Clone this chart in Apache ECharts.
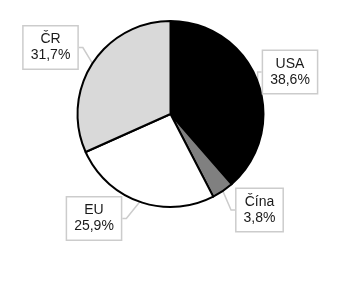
<!DOCTYPE html>
<html><head><meta charset="utf-8">
<script src="https://cdn.jsdelivr.net/npm/echarts@6/dist/echarts.min.js"></script>
<style>html,body{margin:0;padding:0;background:#fff}#c{width:360px;height:283px}</style>
</head><body><div id="c"></div>
<script>
var categories = ['USA', 'Čína', 'EU', 'ČR'];
var values = [38.6, 3.8, 25.9, 31.7];
var colors = ['#000000', '#808080', '#ffffff', '#d9d9d9'];
var labelCenters = [[290, 72], [259.5, 210], [94, 218.5], [50.5, 47.5]];

var chart = echarts.init(document.getElementById('c'), null, {renderer: 'canvas'});
chart.setOption({
  animation: false,
  series: [{
    type: 'pie',
    center: [170.5, 114],
    radius: 93,
    startAngle: 90,
    clockwise: true,
    data: categories.map(function (c, i) {
      return {name: c, value: values[i], itemStyle: {color: colors[i]}};
    }),
    itemStyle: {borderColor: '#000', borderWidth: 2},
    label: {
      show: true,
      position: 'outside',
      formatter: function (p) { return p.name + '\n' + String(p.value).replace('.', ',') + '%'; },
      fontFamily: '"Liberation Sans", Arial, sans-serif',
      fontSize: 14,
      lineHeight: 16,
      color: '#1a1a1a',
      backgroundColor: '#fff',
      borderColor: '#cccccc',
      borderWidth: 1.5,
      padding: [5, 7, 5, 7],
      align: 'center'
    },
    labelLine: {show: true, length: 4, length2: 4, lineStyle: {color: '#cccccc', width: 1.5}},
    labelLayout: function (p) {
      var c = labelCenters[p.dataIndex];
      return {x: c[0], y: c[1], align: 'center', verticalAlign: 'middle'};
    }
  }]
});
</script></body></html>
